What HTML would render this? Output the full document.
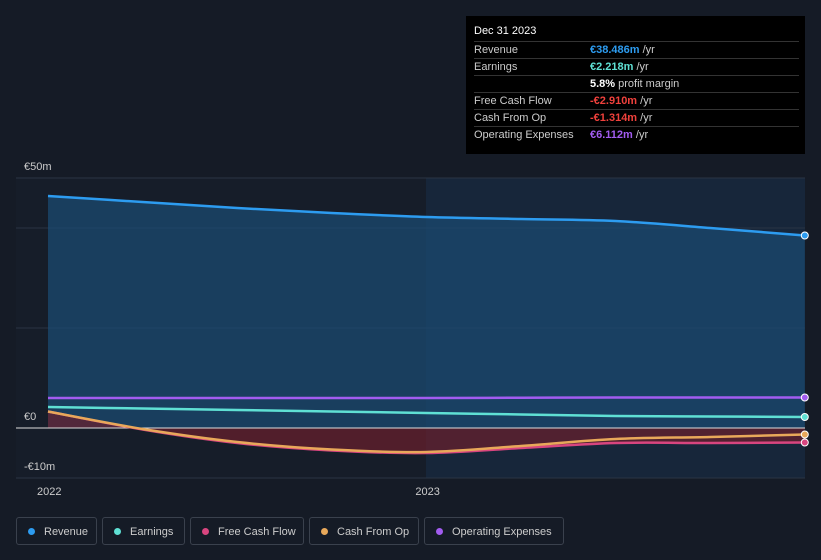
<!DOCTYPE html>
<html><head><meta charset="utf-8"><style>
body{margin:0;background:#151b26;font-family:"Liberation Sans",sans-serif;}
#wrap{position:relative;width:821px;height:560px;overflow:hidden;background:#151b26;}
svg{position:absolute;left:0;top:0}
.tip{position:absolute;left:466px;top:16px;width:339px;height:138px;background:#000;color:#ccc;font-size:11px;}
.tip .t{position:absolute;left:8px;top:9px;color:#fff;font-size:11px}
.row{position:absolute;left:8px;width:325px;height:17px;border-top:1px solid #333;}
.row span{position:absolute;top:2px}
.lg{position:absolute;top:517px;height:28px;border:1px solid #3a414d;border-radius:3px;color:#ccc;font-size:11px;line-height:28px;box-sizing:border-box;padding-left:27px}
.lg i{position:absolute;left:11px;top:10px;width:7px;height:7px;border-radius:50%}
</style></head><body>
<div id="wrap">
<svg id="c" width="821" height="560"></svg>
<div class="tip">
<div class="t">Dec 31 2023</div>
<div class="row" style="top:25px"><span>Revenue</span><span style="left:116px;color:#2d9cf0"><b>€38.486m</b> <span style="position:static;color:#ccc">/yr</span></span></div>
<div class="row" style="top:42px"><span>Earnings</span><span style="left:116px;color:#5fe0d4"><b>€2.218m</b> <span style="position:static;color:#ccc">/yr</span></span></div>
<div class="row" style="top:59px"><span style="left:116px;color:#fff"><b>5.8%</b> <span style="position:static;color:#ccc">profit margin</span></span></div>
<div class="row" style="top:76px"><span>Free Cash Flow</span><span style="left:116px;color:#f0413c"><b>-€2.910m</b> <span style="position:static;color:#ccc">/yr</span></span></div>
<div class="row" style="top:93px"><span>Cash From Op</span><span style="left:116px;color:#f0413c"><b>-€1.314m</b> <span style="position:static;color:#ccc">/yr</span></span></div>
<div class="row" style="top:110px"><span>Operating Expenses</span><span style="left:116px;color:#a25cf0"><b>€6.112m</b> <span style="position:static;color:#ccc">/yr</span></span></div>
</div>
<div class="lg" style="left:16px;width:81px"><i style="background:#2d9cf0"></i>Revenue</div>
<div class="lg" style="left:102px;width:83px"><i style="background:#5fe0d4"></i>Earnings</div>
<div class="lg" style="left:190px;width:114px"><i style="background:#d8457f"></i>Free Cash Flow</div>
<div class="lg" style="left:309px;width:110px"><i style="background:#e8a85a"></i>Cash From Op</div>
<div class="lg" style="left:424px;width:140px"><i style="background:#a25cf0"></i>Operating Expenses</div>
</div>
<script>
const quarters=[0,1,2,3,4,5,6,7,8];
const revenue=[46.4,45.2,44,43,42.2,41.8,41.4,40,38.5];
const earnings=[4.2,3.9,3.6,3.3,3.0,2.7,2.4,2.3,2.2];
const opex=[6.0,6.0,6.0,6.0,6.0,6.05,6.1,6.1,6.1];
const fcf=[3.3,-0.3,-3.0,-4.5,-5.0,-4.0,-3.0,-3.0,-2.9];
const cfo=[3.3,-0.2,-2.8,-4.3,-4.8,-3.6,-2.2,-1.8,-1.3];
const yTicks=[50,0,-10];const yTickLabels=["€50m","€0","-€10m"];
const xYears=["2022","2023"];
const X=q=>48+q*94.6, Y=v=>428-v*5;
const s=document.getElementById('c'),NS="http://www.w3.org/2000/svg";
function el(t,a,n){const e=document.createElementNS(NS,t);for(const k in a)e.setAttribute(k,a[k]);


s.appendChild(e);return e;}
function path(vals){const p=vals.map((v,i)=>[X(quarters[i]),Y(v)]);let d=`M${p[0][0]},${p[0][1]}`;
for(let i=0;i<p.length-1;i++){const a=p[i-1]||p[i],b=p[i],c=p[i+1],e=p[i+2]||c;
d+=`C${b[0]+(c[0]-a[0])/6},${b[1]+(c[1]-a[1])/6} ${c[0]-(e[0]-b[0])/6},${c[1]-(e[1]-b[1])/6} ${c[0]},${c[1]}`;}return d;}
el('rect',{x:16,y:178,width:410,height:300,fill:'#161d29'},'past-region');
el('rect',{x:426,y:178,width:379,height:300,fill:'#17263a'},'recent-region');
[40,20].forEach(v=>el('line',{x1:16,x2:805,y1:Y(v),y2:Y(v),stroke:'#2a3444'},'gridline'));
el('line',{x1:16,x2:805,y1:Y(50),y2:Y(50),stroke:'#2a3444'},'gridline');
el('line',{x1:16,x2:805,y1:478,y2:478,stroke:'#2a3444'},'gridline');
const end=X(8),st=X(0);
el('path',{d:path(revenue)+`L${end},${Y(0)}L${st},${Y(0)}Z`,fill:'#1b4a70',opacity:0.75},'revenue-area');
el('path',{d:path(fcf)+`L${end},${Y(0)}L${st},${Y(0)}Z`,fill:'#6b1f2c',opacity:0.7},'fcf-area');
el('line',{x1:16,x2:805,y1:Y(0),y2:Y(0),stroke:'#ddd','stroke-width':1},'zero-line');
[[opex,'#a25cf0','opex-line'],[earnings,'#5fe0d4','earnings-line'],[fcf,'#d8457f','fcf-line'],[cfo,'#e8a85a','cfo-line'],[revenue,'#2d9cf0','revenue-line']].forEach(([v,c,n])=>{
el('path',{d:path(v),fill:'none',stroke:c,'stroke-width':2.5},n);
el('circle',{cx:end,cy:Y(v[8]),r:3.5,fill:c,stroke:'#fff','stroke-width':1},n+'-end-dot');});
yTicks.forEach((v,i)=>{const t=el('text',{x:24,y:Y(v)-8,fill:'#ccc','font-size':11,'font-family':'Liberation Sans'},'y-tick-label');t.textContent=yTickLabels[i];});
xYears.forEach((y,i)=>{const t=el('text',{x:X(i*4)-11,y:495,fill:'#ccc','font-size':11,'font-family':'Liberation Sans'},'x-tick-label');t.textContent=y;});
</script>
</body></html>
